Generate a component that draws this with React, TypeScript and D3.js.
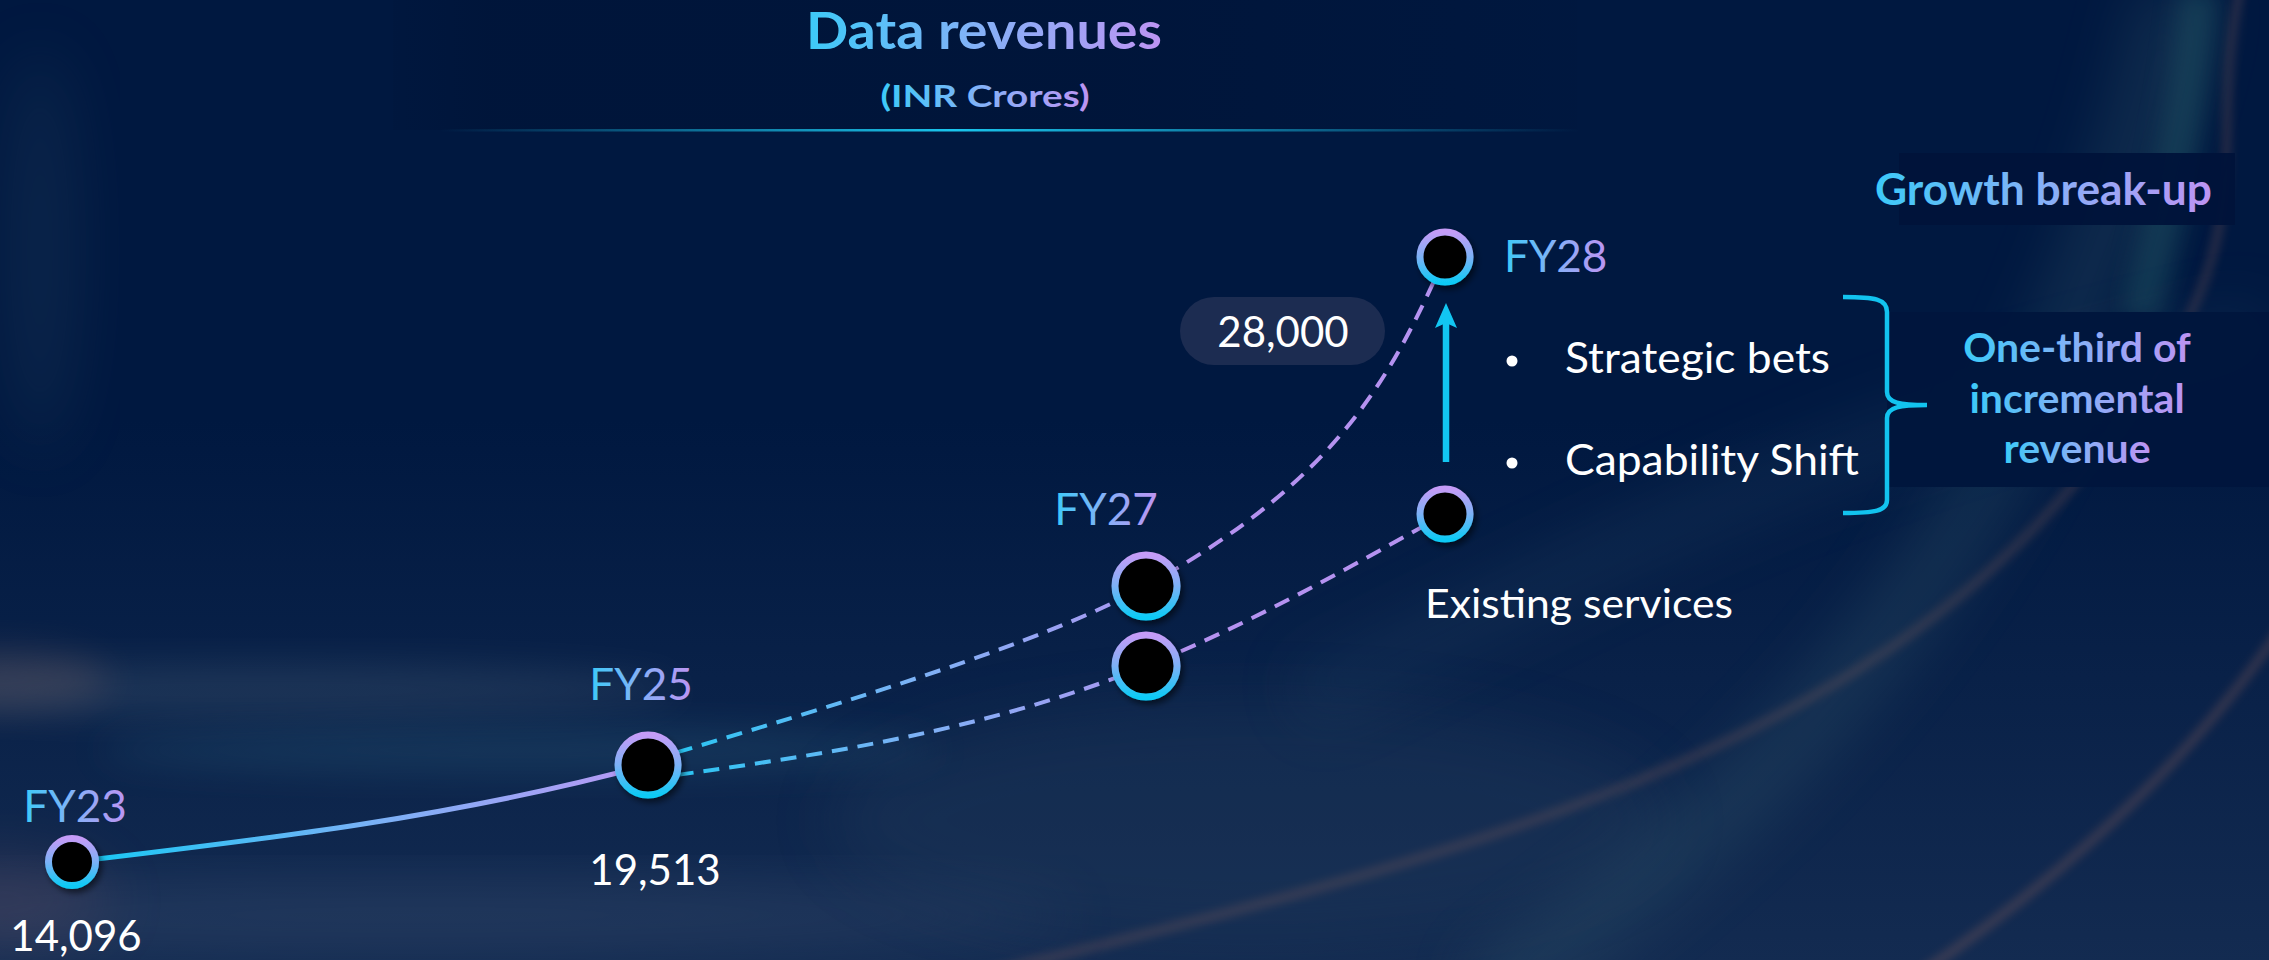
import React from "react";
import * as d3 from "d3";

const W = 2269;
const H = 960;

// ---------- data ----------
const yearLabels = ["FY23", "FY25", "FY27", "FY28"];
const yearIndex = [23, 25, 27, 28];
const historicalYears = [23, 25];
const historicalValues = [14096, 19513];
const forecastYears = [25, 27, 28];
const totalForecast = [19513, 23900, 28000];
const existingForecast = [19513, 22600, 25200];
const valueLabels = ["14,096", "19,513", "28,000"];
const bulletItems = ["Strategic bets", "Capability Shift"];
const noteLines = ["One-third of", "incremental", "revenue"];
const titleText = "Data revenues";
const subtitleText = "(INR Crores)";
const sideTitle = "Growth break-up";
const existingLabel = "Existing services";

const FONT = "Lato, 'Open Sans', 'DejaVu Sans', sans-serif";

export default function App() {
  // illustrative (not-to-scale) piecewise scales, as in the original slide
  const x = d3.scaleLinear().domain(yearIndex).range([72, 648, 1146, 1445]);
  const y = d3
    .scaleLinear()
    .domain([14096, 19513, 22600, 23900, 25200, 28000])
    .range([862, 765, 666, 586, 514, 257]);

  type P = [number, number];
  const histPts: P[] = historicalYears.map((yr, i) => [yr, historicalValues[i]] as P);
  const solidPts: P[] = [...histPts, [forecastYears[1], totalForecast[1]]];
  const totalPts: P[] = forecastYears.map((yr, i) => [yr, totalForecast[i]] as P);
  const existPts: P[] = forecastYears.map((yr, i) => [yr, existingForecast[i]] as P);

  const solidPath = d3
    .line<P>()
    .x((d) => x(d[0]))
    .y((d) => y(d[1]))
    .curve(d3.curveMonotoneX)(solidPts);

  const fork = (off: number) =>
    d3
      .line<P>()
      .x((d) => x(d[0]))
      .y((d, i) => y(d[1]) + (i === 0 ? off : 0));
  const upperPath = fork(-4).curve(d3.curveMonotoneY)(totalPts);
  const lowerPath = fork(14).curve(d3.curveMonotoneX)(existPts);

  const nodes = [
    { yr: 23, v: historicalValues[0], r: 23.5 },
    { yr: 25, v: historicalValues[1], r: 30 },
    { yr: 27, v: totalForecast[1], r: 31 },
    { yr: 27, v: existingForecast[1], r: 31 },
    { yr: 28, v: totalForecast[2], r: 25 },
    { yr: 28, v: existingForecast[2], r: 25 },
  ];

  const x28 = x(28);
  const yTop28 = y(totalForecast[2]);
  const yExist28 = y(existingForecast[2]);
  const arrowTop = yTop28 + 46;
  const arrowBottom = yExist28 - 52;

  // bracket
  const br = d3.path();
  br.moveTo(1843, 297);
  br.bezierCurveTo(1875, 297, 1887, 299, 1887, 312);
  br.lineTo(1887, 392);
  br.bezierCurveTo(1887, 403, 1900, 405, 1927, 405);
  br.bezierCurveTo(1900, 405, 1887, 407, 1887, 418);
  br.lineTo(1887, 500);
  br.bezierCurveTo(1887, 511, 1875, 513, 1843, 513);

  const gradText = "url(#gText)";
  const bulletWidths = [265, 294];

  return (
    <svg
      width={W}
      height={H}
      viewBox={`0 0 ${W} ${H}`}
      style={{ position: "absolute", left: 0, top: 0, display: "block" }}
      fontFamily={FONT}
    >
      <defs>
        <linearGradient id="gText" x1="0" y1="0" x2="1" y2="0">
          <stop offset="0" stopColor="#3ccaf8" />
          <stop offset="0.5" stopColor="#86b0f7" />
          <stop offset="1" stopColor="#bd94f3" />
        </linearGradient>
        <linearGradient id="gRing" x1="0" y1="0" x2="0" y2="1">
          <stop offset="0" stopColor="#c59cf7" />
          <stop offset="0.5" stopColor="#7cb1f6" />
          <stop offset="1" stopColor="#0fcaf5" />
        </linearGradient>
        <linearGradient id="gSolid" gradientUnits="userSpaceOnUse" x1={x(23)} y1="0" x2={x(25)} y2="0">
          <stop offset="0" stopColor="#12c9f4" />
          <stop offset="0.5" stopColor="#76b2f6" />
          <stop offset="1" stopColor="#bb98f5" />
        </linearGradient>
        <linearGradient id="gDash" gradientUnits="userSpaceOnUse" x1={x(25)} y1="0" x2={x(27) + 40} y2="0">
          <stop offset="0" stopColor="#20c8f3" />
          <stop offset="0.5" stopColor="#7db2f6" />
          <stop offset="1" stopColor="#b592f0" />
        </linearGradient>
        <linearGradient id="gBand" x1="0" y1="0" x2="1" y2="0">
          <stop offset="0" stopColor="#001030" stopOpacity="0.1" />
          <stop offset="0.08" stopColor="#001030" stopOpacity="0.35" />
          <stop offset="0.6" stopColor="#001030" stopOpacity="0.35" />
          <stop offset="1" stopColor="#001030" stopOpacity="0.05" />
        </linearGradient>
        <linearGradient id="gRule" x1="0" y1="0" x2="1" y2="0">
          <stop offset="0" stopColor="#1ac6ee" stopOpacity="0" />
          <stop offset="0.45" stopColor="#1ac6ee" stopOpacity="1" />
          <stop offset="1" stopColor="#1ac6ee" stopOpacity="0" />
        </linearGradient>
        <linearGradient id="gLower" x1="0" y1="0" x2="0" y2="1">
          <stop offset="0" stopColor="#1b3358" stopOpacity="0" />
          <stop offset="1" stopColor="#1b3358" stopOpacity="0.7" />
        </linearGradient>
        <clipPath id="clipHist">
          <rect x={0} y={0} width={x(25)} height={H} />
        </clipPath>
        <filter id="blur30" x="-50%" y="-50%" width="200%" height="200%">
          <feGaussianBlur stdDeviation="30" />
        </filter>
        <filter id="blur18" x="-50%" y="-50%" width="200%" height="200%">
          <feGaussianBlur stdDeviation="18" />
        </filter>
        <filter id="blur12" x="-50%" y="-50%" width="200%" height="200%">
          <feGaussianBlur stdDeviation="12" />
        </filter>
        <filter id="blur5" x="-50%" y="-50%" width="200%" height="200%">
          <feGaussianBlur stdDeviation="5" />
        </filter>
        <filter id="shadow" x="-50%" y="-50%" width="200%" height="200%">
          <feDropShadow dx="3" dy="4" stdDeviation="3" floodColor="#000" floodOpacity="0.55" />
        </filter>
      </defs>

      {/* ---------- background ---------- */}
      <rect x={0} y={0} width={W} height={H} fill="#001840" />
      <rect x={0} y={420} width={W} height={H - 420} fill="url(#gLower)" />
      <g>
        <ellipse cx={40} cy={250} rx={40} ry={200} fill="#2a4a66" opacity={0.25} filter="url(#blur30)" />
        <ellipse cx={260} cy={690} rx={420} ry={26} fill="#6a8090" opacity={0.2} filter="url(#blur18)" />
        <ellipse cx={0} cy={680} rx={110} ry={30} fill="#8a6a66" opacity={0.26} filter="url(#blur18)" />
        <ellipse cx={520} cy={750} rx={420} ry={24} fill="#2f6582" opacity={0.28} filter="url(#blur18)" />
        <ellipse cx={420} cy={915} rx={650} ry={30} fill="#4a5c7c" opacity={0.35} filter="url(#blur30)" />
        <ellipse cx={0} cy={900} rx={110} ry={45} fill="#6a5060" opacity={0.3} filter="url(#blur30)" />
        <ellipse cx={1250} cy={820} rx={420} ry={120} fill="#26405f" opacity={0.3} filter="url(#blur30)" />
        <path d="M 1480 1000 C 1780 800, 2060 520, 2175 -10" fill="none" stroke="#3b6272" strokeWidth={70} opacity={0.28} filter="url(#blur30)" />
        <path d="M 2140 320 C 2170 200, 2190 100, 2200 -10" fill="none" stroke="#2f6d72" strokeWidth={40} opacity={0.35} filter="url(#blur12)" />
        <path d="M 980 975 C 1450 860, 1830 760, 2060 500 S 2200 170, 2240 -10" fill="none" stroke="#b8735f" strokeWidth={9} opacity={0.22} filter="url(#blur5)" />
        <path d="M 1880 1000 Q 2160 820, 2300 600" fill="none" stroke="#b8735f" strokeWidth={9} opacity={0.26} filter="url(#blur5)" />
        <path d="M 1300 700 C 1600 560, 1850 420, 2269 330" fill="none" stroke="#2c4d6c" strokeWidth={60} opacity={0.22} filter="url(#blur30)" />
      </g>

      {/* title band */}
      <rect x={393} y={0} width={1184} height={130} fill="url(#gBand)" />
      <rect x={440} y={129} width={1140} height={2.5} fill="url(#gRule)" />

      {/* title */}
      <text x={984} y={49} textAnchor="middle" fontSize={51} fontWeight={700} fill={gradText} textLength={356} lengthAdjust="spacingAndGlyphs">
        {titleText}
      </text>
      <text x={985} y={107} textAnchor="middle" fontSize={30} fontWeight={700} fill={gradText} textLength={209} lengthAdjust="spacingAndGlyphs">
        {subtitleText}
      </text>

      {/* growth break-up box */}
      <rect x={1899} y={153} width={336} height={72} fill="#00133a" opacity={0.95} />
      <line x1={1899} x2={2235} y1={154} y2={154} stroke="url(#gRule)" strokeWidth={2} strokeDasharray="2 2" />
      <line x1={1899} x2={2235} y1={224} y2={224} stroke="url(#gRule)" strokeWidth={2} strokeDasharray="2 2" />
      <text x={1875} y={205} fontSize={43} fontWeight={700} fill={gradText} textLength={337} lengthAdjust="spacingAndGlyphs">
        {sideTitle}
      </text>

      {/* right note box */}
      <rect x={1887} y={312} width={W - 1887} height={175} fill="#00163d" opacity={0.97} />
      <line x1={1887} x2={W} y1={313} y2={313} stroke="url(#gRule)" strokeWidth={2} strokeDasharray="2 2" />
      <line x1={1887} x2={W} y1={486} y2={486} stroke="url(#gRule)" strokeWidth={2} strokeDasharray="2 2" />
      {noteLines.map((t, i) => (
        <text key={t} x={2077} y={362 + i * 50.5} textAnchor="middle" fontSize={41} fontWeight={700} fill={gradText}>
          {t}
        </text>
      ))}

      {/* bracket */}
      <path d={br.toString()} fill="none" stroke="#12c3ef" strokeWidth={4.5} />

      {/* ---------- lines ---------- */}
      <path d={solidPath ?? ""} fill="none" stroke="url(#gSolid)" strokeWidth={5} clipPath="url(#clipHist)" />
      <path d={upperPath ?? ""} fill="none" stroke="url(#gDash)" strokeWidth={4} strokeDasharray="16 10" strokeDashoffset={-30} />
      <path d={lowerPath ?? ""} fill="none" stroke="url(#gDash)" strokeWidth={4} strokeDasharray="16 10" strokeDashoffset={-30} />

      {/* arrow */}
      <line x1={x28 + 1} x2={x28 + 1} y1={arrowBottom} y2={arrowTop + 20} stroke="#12c6f2" strokeWidth={6.5} />
      <path
        d={`M ${x28 + 1} ${arrowTop} L ${x28 + 12} ${arrowTop + 25} L ${x28 + 1} ${arrowTop + 20} L ${x28 - 10} ${arrowTop + 25} Z`}
        fill="#12c6f2"
      />

      {/* nodes */}
      {nodes.map((n, i) => (
        <circle key={i} cx={x(n.yr)} cy={y(n.v)} r={n.r} fill="#000" stroke="url(#gRing)" strokeWidth={7} filter="url(#shadow)" />
      ))}

      {/* year labels */}
      <text x={x(23) + 3} y={y(historicalValues[0]) - 40} textAnchor="middle" fontSize={44} fill={gradText}>
        {yearLabels[0]}
      </text>
      <text x={x(25) - 7} y={y(historicalValues[1]) - 65} textAnchor="middle" fontSize={44} fill={gradText}>
        {yearLabels[1]}
      </text>
      <text x={x(27) - 40} y={y(totalForecast[1]) - 61} textAnchor="middle" fontSize={44} fill={gradText}>
        {yearLabels[2]}
      </text>
      <text x={x28 + 59} y={yTop28 + 15} fontSize={44} fill={gradText}>
        {yearLabels[3]}
      </text>

      {/* value labels */}
      <text x={x(23) + 4} y={y(historicalValues[0]) + 89} textAnchor="middle" fontSize={42} fill="#fff">
        {valueLabels[0]}
      </text>
      <text x={x(25) + 7} y={y(historicalValues[1]) + 120} textAnchor="middle" fontSize={42} fill="#fff">
        {valueLabels[1]}
      </text>
      <rect x={x28 - 265} y={yTop28 + 40} width={205} height={68} rx={34} fill="#1d2d52" opacity={0.95} />
      <text x={x28 - 162} y={yTop28 + 90} textAnchor="middle" fontSize={42} fill="#fff">
        {valueLabels[2]}
      </text>

      {/* bullets */}
      {bulletItems.map((t, i) => (
        <g key={t}>
          <circle cx={1512} cy={361 + i * 102} r={5.5} fill="#fff" />
          <text x={1565} y={373 + i * 102} fontSize={42} fill="#fff" textLength={bulletWidths[i]} lengthAdjust="spacingAndGlyphs">
            {t}
          </text>
        </g>
      ))}

      <text x={1425} y={yExist28 + 104} fontSize={41} fill="#fff" textLength={308} lengthAdjust="spacingAndGlyphs">
        {existingLabel}
      </text>
    </svg>
  );
}
